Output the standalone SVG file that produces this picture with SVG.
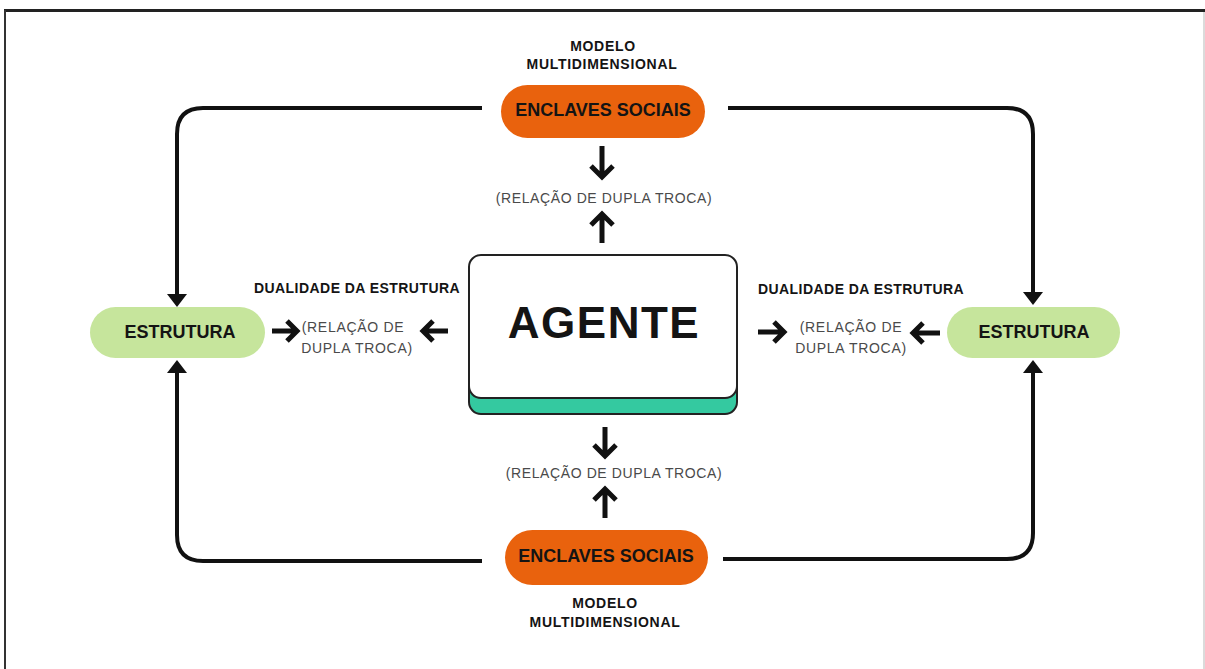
<svg xmlns="http://www.w3.org/2000/svg" width="1205" height="669" viewBox="0 0 1205 669">
  <defs>
    <marker id="tri" markerUnits="userSpaceOnUse" markerWidth="14" markerHeight="20" refX="1" refY="10" orient="auto">
      <path d="M0,0 L13,10 L0,20 z" fill="#111"/>
    </marker>
    <style>
      .bold { font-family: "Liberation Sans", Arial, sans-serif; font-weight: 700; fill: #141414; text-anchor: middle; }
      .cap { font-size: 14px; letter-spacing: 0.7px; }
      .pilltxt { font-size: 18px; }
      .rel { font-family: "Liberation Sans", Arial, sans-serif; font-size: 14px; fill: #4a4a4a; text-anchor: middle; letter-spacing: 0.6px; }
      .conn { fill: none; stroke: #111; stroke-width: 4; stroke-linejoin: round; }
      .sarrow { fill: none; stroke: #111; stroke-width: 5; stroke-linejoin: miter; stroke-linecap: butt; }
      .orange { fill: #E9620D; }
      .green { fill: #C6E59C; }
    </style>
  </defs>
  <rect x="0" y="0" width="1205" height="669" fill="#ffffff"/>

  <!-- frame -->
  <g id="frame">
    <line x1="4" y1="10.5" x2="1205" y2="10.5" stroke="#222" stroke-width="3"/>
    <line x1="5" y1="10" x2="5" y2="669" stroke="#333" stroke-width="2"/>
    <line x1="1204" y1="12" x2="1204" y2="669" stroke="#cfcfcf" stroke-width="1.5"/>
  </g>

  <!-- connectors -->
  <g id="connectors">
    <path class="conn" d="M482,108 H203 Q177,108 177,134 V295" marker-end="url(#tri)"/>
    <path class="conn" d="M728,108 H1007 Q1033,108 1033,134 V293" marker-end="url(#tri)"/>
    <path class="conn" d="M482,561 H203 Q177,561 177,535 V372" marker-end="url(#tri)"/>
    <path class="conn" d="M723,559 H1007 Q1033,559 1033,533 V372" marker-end="url(#tri)"/>

    <!-- short arrows -->
    <path class="sarrow" d="M602,146 V177 M591,166 L602,177 L613,166"/>
    <path class="sarrow" d="M602,243 V214 M591,225 L602,214 L613,225"/>
    <path class="sarrow" d="M605,427 V456 M594,445 L605,456 L616,445"/>
    <path class="sarrow" d="M605,518 V489 M594,500 L605,489 L616,500"/>
    <path class="sarrow" d="M272,331 H297 M287,321 L297,331 L287,341"/>
    <path class="sarrow" d="M448,331 H423 M433,321 L423,331 L433,341"/>
    <path class="sarrow" d="M758,332 H784 M774,322 L784,332 L774,342"/>
    <path class="sarrow" d="M940,333 H913 M923,323 L913,333 L923,343"/>
  </g>

  <!-- top enclave -->
  <g id="enclave-top">
    <text class="bold cap" x="603" y="51">MODELO</text>
    <text class="bold cap" x="602" y="69">MULTIDIMENSIONAL</text>
    <rect class="orange" x="501" y="85" width="204" height="53" rx="26.5"/>
    <text class="bold pilltxt" x="603" y="116">ENCLAVES SOCIAIS</text>
  </g>

  <g id="rel-top">
    <text class="rel" x="604" y="203">(RELAÇÃO DE DUPLA TROCA)</text>
  </g>

  <!-- agente -->
  <g id="agente">
    <rect x="469" y="262" width="268" height="152" rx="12" fill="#34C9A0" stroke="#222" stroke-width="2"/>
    <rect x="469" y="255" width="268" height="143" rx="12" fill="#ffffff" stroke="#222" stroke-width="2"/>
    <text class="bold" x="604" y="338" font-size="44" letter-spacing="1.5">AGENTE</text>
  </g>

  <!-- left estrutura -->
  <g id="estrutura-left">
    <rect class="green" x="90" y="307" width="175" height="51" rx="25.5"/>
    <text class="bold pilltxt" x="180" y="338">ESTRUTURA</text>
  </g>
  <g id="dualidade-left">
    <text class="bold cap" x="357" y="293" style="letter-spacing:0.45px">DUALIDADE DA ESTRUTURA</text>
    <text class="rel" x="353" y="332" style="letter-spacing:0.7px">(RELAÇÃO DE</text>
    <text class="rel" x="357" y="353" style="letter-spacing:0.7px">DUPLA TROCA)</text>
  </g>

  <!-- right estrutura -->
  <g id="estrutura-right">
    <rect class="green" x="947" y="307" width="173" height="51" rx="25.5"/>
    <text class="bold pilltxt" x="1034" y="338">ESTRUTURA</text>
  </g>
  <g id="dualidade-right">
    <text class="bold cap" x="861" y="294" style="letter-spacing:0.45px">DUALIDADE DA ESTRUTURA</text>
    <text class="rel" x="851" y="332" style="letter-spacing:0.7px">(RELAÇÃO DE</text>
    <text class="rel" x="851" y="353" style="letter-spacing:0.7px">DUPLA TROCA)</text>
  </g>

  <g id="rel-bottom">
    <text class="rel" x="614" y="478">(RELAÇÃO DE DUPLA TROCA)</text>
  </g>

  <!-- bottom enclave -->
  <g id="enclave-bottom">
    <rect class="orange" x="505" y="530" width="203" height="55" rx="27.5"/>
    <text class="bold pilltxt" x="606" y="562">ENCLAVES SOCIAIS</text>
    <text class="bold cap" x="605" y="608">MODELO</text>
    <text class="bold cap" x="605" y="627">MULTIDIMENSIONAL</text>
  </g>
</svg>
